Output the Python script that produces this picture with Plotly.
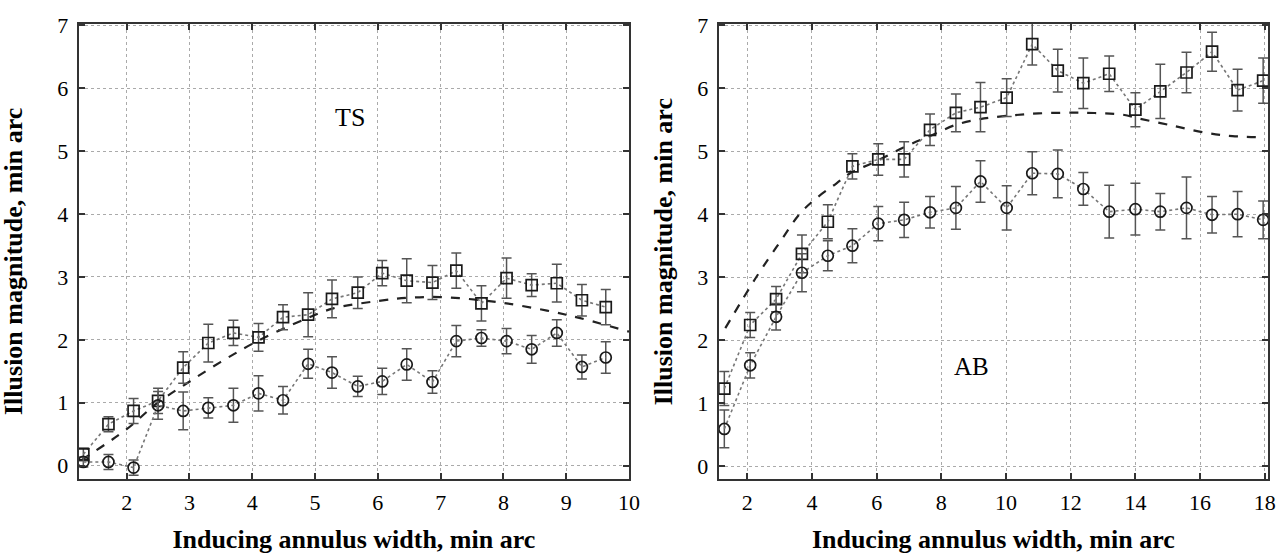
import plotly.graph_objects as go

# ---------------- Data: TS panel (left) ----------------
ts_x = [1.31, 1.71, 2.11, 2.50, 2.90, 3.30, 3.70, 4.10, 4.49, 4.89, 5.27,
        5.68, 6.07, 6.46, 6.87, 7.25, 7.65, 8.05, 8.45, 8.85, 9.25, 9.63]
ts_sq = [0.18, 0.66, 0.87, 1.03, 1.56, 1.95, 2.11, 2.04, 2.36, 2.40, 2.65,
         2.75, 3.06, 2.94, 2.91, 3.10, 2.58, 2.98, 2.87, 2.90, 2.63, 2.52]
ts_sq_err = [0.10, 0.12, 0.20, 0.20, 0.25, 0.30, 0.20, 0.22, 0.20, 0.35, 0.30,
             0.25, 0.20, 0.35, 0.27, 0.28, 0.28, 0.32, 0.18, 0.30, 0.25, 0.28]
ts_ci = [0.06, 0.06, -0.03, 0.96, 0.87, 0.92, 0.96, 1.15, 1.04, 1.62, 1.48,
         1.26, 1.34, 1.61, 1.33, 1.98, 2.03, 1.98, 1.85, 2.11, 1.57, 1.72]
ts_ci_err = [0.08, 0.12, 0.12, 0.22, 0.30, 0.16, 0.27, 0.28, 0.22, 0.23, 0.25,
             0.16, 0.21, 0.25, 0.18, 0.25, 0.13, 0.20, 0.22, 0.21, 0.19, 0.25]
ts_fit_x = [1.28, 2.0, 2.48, 2.96, 3.5, 4.10, 4.89, 5.29, 6.02, 6.5, 6.99,
            7.65, 8.05, 9.0, 10.0]
ts_fit_y = [0.09, 0.58, 0.99, 1.31, 1.65, 1.99, 2.35, 2.50, 2.62, 2.67, 2.68,
            2.63, 2.58, 2.40, 2.13]

# ---------------- Data: AB panel (right) ----------------
ab_x = [1.29, 2.09, 2.89, 3.69, 4.49, 5.25, 6.05, 6.85, 7.65, 8.45, 9.21,
        10.02, 10.81, 11.60, 12.39, 13.19, 14.00, 14.77, 15.58, 16.37, 17.16, 17.95]
ab_sq = [1.23, 2.24, 2.65, 3.37, 3.88, 4.76, 4.87, 4.87, 5.34, 5.61, 5.70,
         5.85, 6.70, 6.28, 6.08, 6.23, 5.66, 5.95, 6.25, 6.58, 5.97, 6.12]
ab_sq_err = [0.27, 0.20, 0.20, 0.30, 0.27, 0.20, 0.25, 0.28, 0.25, 0.30, 0.39,
             0.30, 0.33, 0.34, 0.40, 0.28, 0.27, 0.43, 0.32, 0.31, 0.33, 0.36]
ab_ci = [0.59, 1.60, 2.37, 3.07, 3.34, 3.50, 3.85, 3.91, 4.03, 4.10, 4.52,
         4.10, 4.65, 4.64, 4.40, 4.04, 4.08, 4.04, 4.10, 3.99, 4.00, 3.91]
ab_ci_err = [0.30, 0.20, 0.21, 0.30, 0.24, 0.27, 0.27, 0.28, 0.25, 0.34, 0.33,
             0.35, 0.34, 0.38, 0.26, 0.42, 0.41, 0.29, 0.49, 0.29, 0.36, 0.30]
ab_fit_x = [1.32, 2.29, 3.0, 3.63, 4.2, 4.76, 5.18, 5.9, 7.0, 7.65, 8.45, 9.2,
            10.0, 11.0, 12.4, 13.6, 14.1, 15.2, 16.2, 17.0, 17.95]
ab_fit_y = [2.19, 3.01, 3.55, 4.01, 4.28, 4.49, 4.65, 4.82, 5.10, 5.24, 5.42,
            5.51, 5.56, 5.60, 5.61, 5.58, 5.52, 5.40, 5.29, 5.24, 5.22]

ts_ticks = [2, 3, 4, 5, 6, 7, 8, 9, 10]
ab_ticks = [2, 4, 6, 8, 10, 12, 14, 16, 18]
y_ticks = [0, 1, 2, 3, 4, 5, 6, 7]

FONT = "Liberation Serif, Times New Roman, serif"
MK = "#1a1a1a"
ERR = "#555555"
DOT = "#777777"

# Full-window figure; the page's default body margin is removed below.
W, H = 1276, 556
OFF = 0

fig = go.Figure()


def add_series(x, y, err, symbol, xa, ya):
    fig.add_trace(go.Scatter(
        x=x, y=y, mode="lines+markers", xaxis=xa, yaxis=ya,
        line=dict(color=DOT, width=1.6, dash="dot"),
        marker=dict(symbol=symbol, size=11, color=MK, line=dict(color=MK, width=1.7)),
        error_y=dict(type="data", array=err, visible=True, color=ERR,
                     thickness=1.5, width=5),
        showlegend=False, cliponaxis=True))


def add_fit(x, y, xa, ya):
    fig.add_trace(go.Scatter(
        x=x, y=y, mode="lines", xaxis=xa, yaxis=ya,
        line=dict(color="#222222", width=2.2, dash="dash", shape="spline"),
        showlegend=False))


add_fit(ts_fit_x, ts_fit_y, "x", "y")
add_series(ts_x, ts_sq, ts_sq_err, "square-open", "x", "y")
add_series(ts_x, ts_ci, ts_ci_err, "circle-open", "x", "y")

add_fit(ab_fit_x, ab_fit_y, "x2", "y2")
add_series(ab_x, ab_sq, ab_sq_err, "square-open", "x2", "y2")
add_series(ab_x, ab_ci, ab_ci_err, "circle-open", "x2", "y2")

axis_common = dict(
    showline=True, linecolor="#333333", linewidth=2, mirror="ticks",
    ticks="inside", ticklen=6, tickwidth=2, tickcolor="#333333",
    showgrid=True, gridcolor="#aaaaaa", gridwidth=1, griddash="dot",
    zeroline=False, tickfont=dict(family=FONT, size=22, color="black"),
    automargin=False,
)

xtitle = "Inducing annulus width, min arc"
ytitle = "Illusion magnitude, min arc"
tfont = dict(family=FONT, size=26, color="black", weight="bold")


def px_x(p):
    return (p - OFF) / W


def px_y(p):
    return 1 - (p - OFF) / H


ydom = [px_y(479.3), px_y(24)]

fig.update_layout(
    width=W, height=H,
    margin=dict(l=0, r=0, t=0, b=0),
    paper_bgcolor="white", plot_bgcolor="white",
    xaxis=dict(axis_common, domain=[px_x(78.7), px_x(629)], range=[1.236, 10.0],
               tickvals=ts_ticks, ticktext=[str(t) for t in ts_ticks],
               anchor="y", ticklabelstandoff=2,
               title=dict(text="<b>" + xtitle + "</b>", font=tfont, standoff=16)),
    yaxis=dict(axis_common, domain=ydom, range=[-0.216, 7.02],
               tickvals=y_ticks, ticktext=[str(t) for t in y_ticks],
               anchor="x", ticklabelstandoff=4),
    xaxis2=dict(axis_common, domain=[px_x(718.7), px_x(1268)], range=[1.116, 18.1],
                tickvals=ab_ticks, ticktext=[str(t) for t in ab_ticks],
                anchor="y2", ticklabelstandoff=2,
                title=dict(text="<b>" + xtitle + "</b>", font=tfont, standoff=16)),
    yaxis2=dict(axis_common, domain=ydom, range=[-0.21, 7.02],
                tickvals=y_ticks, ticktext=[str(t) for t in y_ticks],
                anchor="x2", ticklabelstandoff=4,
                title=dict(text="<b>" + ytitle + "</b>", font=tfont, standoff=17)),
    annotations=[
        dict(text="<b>" + ytitle + "</b>", x=px_x(13), y=px_y(262), xref="paper",
             yref="paper", xanchor="center", yanchor="middle", textangle=-90,
             showarrow=False, font=tfont),
        dict(text="TS", x=5.56, y=5.53, xref="x", yref="y", showarrow=False,
             font=dict(family=FONT, size=26, color="black")),
        dict(text="AB", x=8.94, y=1.58, xref="x2", yref="y2", showarrow=False,
             font=dict(family=FONT, size=25, color="black")),
    ],
)

fig.write_html(
    "out.html",
    config={"displayModeBar": False},
    post_script="document.body.style.margin='0';document.body.style.overflow='hidden';",
)
